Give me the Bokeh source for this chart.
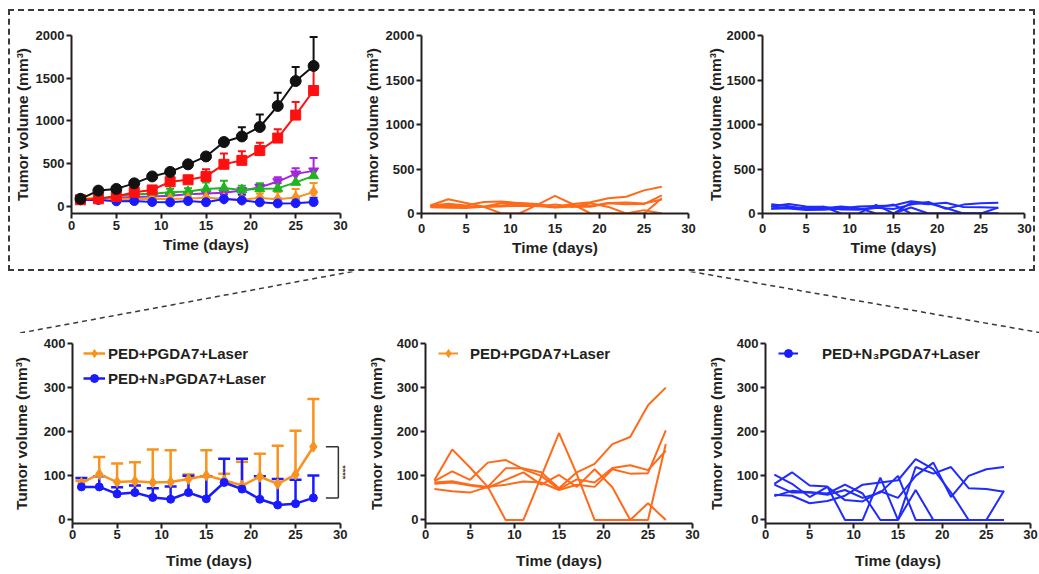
import math
from bokeh.plotting import figure
from bokeh.layouts import row, column
from bokeh.models import (Range1d, Whisker, TeeHead, Legend, LegendItem, Label,
                          ColumnDataSource, FixedTicker, Spacer)
from bokeh.embed import file_html
from bokeh.resources import INLINE

# ---------------- data ----------------
days = [1, 3, 5, 7, 9, 11, 13, 15, 17, 19, 21, 23, 25, 27]

black_mean = [88, 184, 204, 269, 350, 403, 492, 584, 753, 818, 929, 1175, 1467, 1644]
black_err = [15, 20, 20, 40, 27, 30, 25, 25, 30, 107, 146, 154, 165, 337]
red_mean = [77, 88, 115, 165, 192, 288, 311, 350, 492, 538, 653, 799, 1068, 1356]
red_err = [10, 15, 15, 40, 25, 50, 30, 84, 126, 107, 92, 103, 153, 249]
purple_mean = [80, 85, 100, 110, 115, 125, 140, 150, 160, 184, 222, 290, 380, 415]
purple_err = [10, 10, 10, 15, 15, 20, 20, 25, 25, 30, 40, 50, 65, 150]
green_mean = [77, 88, 120, 140, 146, 165, 173, 204, 215, 192, 205, 210, 280, 357]
green_err = [10, 15, 20, 25, 30, 40, 40, 76, 85, 50, 65, 60, 96, 80]
orange_mean = [84, 104, 86, 88, 85, 86, 93, 101, 90, 78, 98, 82, 103, 166]
orange_err = [5, 39, 42, 43, 75, 72, 10, 57, 15, 54, 52, 86, 99, 108]
blue_mean = [75, 75, 59, 62, 51, 47, 62, 48, 85, 70, 47, 34, 37, 50]
blue_err = [20, 24, 15, 16, 21, 29, 38, 51, 54, 69, 52, 59, 54, 51]

orange_m1 = [85, 88, 80, 75, 117, 117, 108, 72, 108, 127, 172, 188, 260, 300]
orange_m2 = [90, 160, 119, 75, 80, 87, 85, 68, 80, 75, 115, 105, 106, 203]
orange_m3 = [70, 65, 62, 75, 0, 0, 98, 197, 104, 0, 0, 0, 0, 172]
orange_m4 = [88, 110, 91, 130, 136, 115, 100, 70, 92, 85, 118, 124, 113, 157]
orange_m5 = [82, 85, 78, 73, 91, 108, 80, 102, 75, 115, 74, 0, 38, 0]

blue_m1 = [103, 82, 52, 75, 45, 42, 65, 50, 100, 130, 52, 100, 115, 120]
blue_m2 = [82, 108, 78, 76, 0, 0, 96, 0, 68, 0, 0, 0, 0, 0]
blue_m3 = [80, 62, 63, 60, 80, 60, 0, 0, 120, 105, 120, 72, 70, 64]
blue_m4 = [57, 55, 38, 43, 55, 80, 85, 90, 138, 115, 62, 0, 0, 0]
blue_m5 = [54, 66, 63, 57, 68, 50, 62, 100, 0, 0, 0, 0, 0, 66]

x_ticks = [0, 5, 10, 15, 20, 25, 30]
y_ticks_big = [0, 500, 1000, 1500, 2000]
y_ticks_small = [0, 100, 200, 300, 400]

label_orange = "PED+PGDA7+Laser"
label_blue = "PED+N\u2083PGDA7+Laser"
x_title = "Time (days)"
y_title = "Tumor volume (mm\u00b3)"

# ---------------- style ----------------
FONT = "Liberation Sans"
TXT = "#231f20"
C_BLACK = "#111111"
C_RED = "#ff1010"
C_PURPLE = "#a526e0"
C_GREEN = "#1fb51f"
C_ORANGE = "#f7931e"
C_BLUE = "#1a1aff"
C_ORANGE_IND = "#ff6a1a"
C_BLUE_IND = "#1f2bff"
DASH_C = "#3a3a3a"
NAN = float("nan")


def make_fig(w, h, ylo, yhi, yticks, mbl, mbr, mbt, mbb, ylab_so, xtick_so, xlab_so, xhi=30):
    p = figure(width=w, height=h, x_range=Range1d(0, xhi), y_range=Range1d(ylo, yhi),
               min_border_left=mbl, min_border_right=mbr, min_border_top=mbt,
               min_border_bottom=mbb, toolbar_location=None, output_backend="svg")
    p.xgrid.visible = False
    p.ygrid.visible = False
    p.outline_line_color = None
    for ax in p.axis:
        ax.axis_line_width = 2
        ax.axis_line_color = TXT
        ax.major_tick_line_width = 2
        ax.major_tick_line_color = TXT
        ax.major_tick_out = 5
        ax.major_tick_in = 0
        ax.minor_tick_line_color = None
        ax.major_label_text_font = FONT
        ax.major_label_text_font_style = "bold"
        ax.major_label_text_font_size = "13px"
        ax.major_label_text_color = TXT
        ax.axis_label_text_font = FONT
        ax.axis_label_text_font_style = "bold"
        ax.axis_label_text_font_size = "15.5px"
        ax.axis_label_text_color = TXT
    p.xaxis.ticker = FixedTicker(ticks=x_ticks)
    p.yaxis.ticker = FixedTicker(ticks=yticks)
    p.xaxis.bounds = (0, 30)
    p.xaxis.axis_label = x_title
    p.yaxis.axis_label = y_title
    p.xaxis.major_label_standoff = xtick_so
    p.xaxis.axis_label_standoff = xlab_so
    p.yaxis.major_label_standoff = 2
    p.yaxis.axis_label_standoff = ylab_so
    return p


def add_series(p, mean, err, color, marker, size, lw=2, head=8):
    src = ColumnDataSource(dict(x=days, y=mean, up=[m + e for m, e in zip(mean, err)]))
    p.add_layout(Whisker(source=src, base="x", lower="y", upper="up",
                         line_color=color, line_width=lw,
                         upper_head=TeeHead(size=head, line_color=color, line_width=lw),
                         lower_head=None))
    ln = p.line("x", "y", source=src, line_color=color, line_width=lw)
    sc = p.scatter("x", "y", source=src, marker=marker, size=size,
                   fill_color=color, line_color=color)
    return ln, sc


# ---------------- top row (inside dashed box) ----------------
TOP_H = 258
tl = make_fig(342, TOP_H, -84, 2000, y_ticks_big, 61, 12, 24, 47, 2, 2, 3)
add_series(tl, purple_mean, purple_err, C_PURPLE, "inverted_triangle", 10)
add_series(tl, green_mean, green_err, C_GREEN, "triangle", 10)
add_series(tl, orange_mean, orange_err, C_ORANGE, "diamond", 12)
add_series(tl, blue_mean, blue_err, C_BLUE, "circle", 9)
add_series(tl, red_mean, red_err, C_RED, "square", 10)
add_series(tl, black_mean, black_err, C_BLACK, "circle", 11)

tm = make_fig(348, TOP_H, 0, 2000, y_ticks_big, 69, 12, 24, 56, 2, 5, 3)
for m in [orange_m1, orange_m2, orange_m3, orange_m4, orange_m5]:
    tm.line(days, m, line_color=C_ORANGE_IND, line_width=2)

tr = make_fig(333, TOP_H, 0, 2000, y_ticks_big, 62, 9, 24, 56, 0, 5, 3)
for m in [blue_m1, blue_m2, blue_m3, blue_m4, blue_m5]:
    tr.line(days, m, line_color=C_BLUE_IND, line_width=2)

top_box = row(tl, tm, tr, styles={"border": "2px dashed " + DASH_C})
top = row(Spacer(width=8, height=TOP_H + 4), top_box)

# ---------------- connector ----------------
Y_BOX = 9 + TOP_H + 4
CONN_H = 333 - Y_BOX
conn = figure(width=1039, height=CONN_H, x_range=Range1d(0, 1039), y_range=Range1d(333, Y_BOX),
              min_border=0, toolbar_location=None, output_backend="svg",
              x_axis_location=None, y_axis_location=None)
conn.xgrid.visible = False
conn.ygrid.visible = False
conn.outline_line_color = None
conn.segment(x0=[352, 690], y0=[Y_BOX, Y_BOX], x1=[17, 1039], y1=[333, 332],
             line_color=DASH_C, line_width=1.5, line_dash="5 4")

# ---------------- bottom row ----------------
BOT_H = 241
FH = 180
bl = make_fig(352, BOT_H, -8, 400, y_ticks_small, 72, 7, 10, 51, 11, 1, 10, xhi=30.6)
o_ln, o_sc = add_series(bl, orange_mean, orange_err, C_ORANGE, "diamond", 11, lw=2.5, head=12)
b_ln, b_sc = add_series(bl, blue_mean, blue_err, C_BLUE, "circle", 8, lw=2.5, head=12)
# significance bracket built from the last values
yb, yt = blue_mean[-1], orange_mean[-1]
bl.segment(x0=[29.8, 28.4, 28.4], y0=[yb, yt, yb], x1=[29.8, 29.8, 29.8], y1=[yt, yt, yb],
           line_color="#333333", line_width=1.5)
bl.add_layout(Label(x=30.3, y=(yb + yt) / 2, text="****", angle=-math.pi / 2,
                    text_align="center", text_baseline="middle", text_font=FONT,
                    text_font_size="9px", text_font_style="bold", text_color="#444444"))
leg = Legend(items=[LegendItem(label=label_orange, renderers=[o_ln, o_sc]),
                    LegendItem(label=label_blue, renderers=[b_ln, b_sc])],
             location=(11, FH - 45), glyph_width=22, glyph_height=20, label_height=20,
             label_standoff=3, spacing=5, padding=0, margin=0,
             border_line_color=None, background_fill_alpha=0,
             label_text_font=FONT, label_text_font_style="bold",
             label_text_font_size="15px", label_text_color=TXT)
bl.add_layout(leg)


def indiv_panel(w, mbl, mbr, ylab_so, mice, color, lg_color, lg_marker, lg_size, label, standoff):
    p = make_fig(w, BOT_H, -8, 400, y_ticks_small, mbl, mbr, 10, 51, ylab_so, 1, 10)
    for m in mice:
        p.line(days, m, line_color=color, line_width=2)
    ln = p.line(x=[NAN], y=[NAN], line_color=lg_color, line_width=2)
    sc = p.scatter(x=[NAN], y=[NAN], marker=lg_marker, size=lg_size, fill_color=lg_color,
                   line_color=lg_color)
    lg = Legend(items=[LegendItem(label=label, renderers=[ln, sc])],
                location=(13, FH - 20), glyph_width=20, glyph_height=20, label_height=20,
                label_standoff=standoff, padding=0, margin=0,
                border_line_color=None, background_fill_alpha=0,
                label_text_font=FONT, label_text_font_style="bold",
                label_text_font_size="15px", label_text_color=TXT)
    p.add_layout(lg)
    return p


bm = indiv_panel(348, 73, 8, 9, [orange_m1, orange_m2, orange_m3, orange_m4, orange_m5],
                 C_ORANGE_IND, C_ORANGE, "diamond", 8, label_orange, 12)
br = indiv_panel(339, 65, 9, 9, [blue_m1, blue_m2, blue_m3, blue_m4, blue_m5],
                 C_BLUE_IND, C_BLUE, "circle", 7, label_blue, 24)

bottom = row(bl, bm, br)

layout = column(Spacer(width=8, height=9), top, conn, bottom)
open("out.html", "w").write(file_html(layout, INLINE))
